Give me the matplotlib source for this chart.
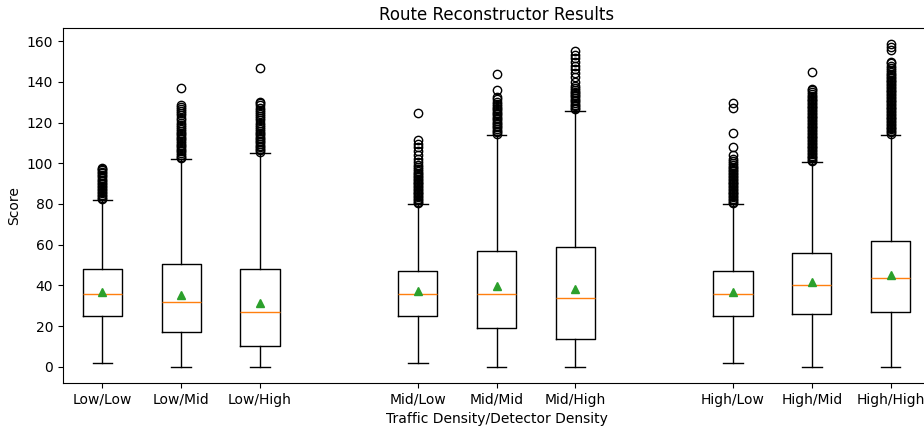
"""Route reconstructor score boxplots"""

import matplotlib
matplotlib.use("Agg")
from matplotlib import pyplot as plt

labels = ["Low/Low", "Low/Mid", "Low/High",
          "Mid/Low", "Mid/Mid", "Mid/High",
          "High/Low", "High/Mid", "High/High"]
positions = [1, 2, 3, 5, 6, 7, 9, 10, 11]

q1 = [25.0, 16.9, 10.1, 25.0, 18.9, 13.5, 25.0, 25.9, 26.7]
med = [35.6, 31.9, 26.8, 35.6, 35.6, 34.0, 35.6, 40.0, 43.7]
q3 = [48.1, 50.7, 48.1, 47.2, 57.1, 58.7, 47.2, 55.9, 61.6]
mean = [36.6, 35.1, 31.4, 37.1, 39.5, 38.4, 36.6, 41.9, 45.2]
whislo = [2.1, 0.0, 0.0, 2.1, 0.0, 0.0, 2.1, 0.0, 0.0]
whishi = [81.8, 102.1, 104.9, 80.0, 113.8, 125.9, 80.0, 100.5, 113.8]

fliers = [
    [82.5, 83.0, 83.8, 84.5, 85.2, 86.0, 86.7, 87.5, 88.3, 89.0, 89.6, 90.4,
     91.2, 92.0, 92.7, 93.5, 94.2, 95.0, 95.8, 96.5, 97.2, 97.8],
    [102.5, 103.3, 104.0, 105.0, 105.8, 106.5, 107.4, 108.3, 109.0, 110.0,
     110.8, 111.7, 112.5, 113.4, 114.2, 115.0, 116.0, 117.0, 118.0, 119.0,
     120.0, 121.2, 122.4, 123.5, 124.6, 125.8, 126.7, 127.5, 128.4, 136.9],
    [105.5, 106.3, 107.0, 107.8, 108.6, 109.4, 110.2, 111.0, 111.8, 112.6,
     113.4, 114.2, 115.0, 116.0, 117.0, 118.0, 119.0, 120.0, 121.0, 122.0,
     123.0, 124.0, 125.0, 126.0, 127.0, 128.5, 129.5, 130.2, 146.7],
    [80.5, 81.2, 81.9, 82.6, 83.3, 84.0, 84.7, 85.4, 86.1, 86.8, 87.5, 88.2,
     88.9, 89.6, 90.3, 91.0, 91.7, 92.4, 93.1, 93.8, 94.5, 95.2, 96.0, 97.0,
     98.0, 99.0, 100.5, 102.0, 104.0, 106.0, 108.0, 109.5, 111.5, 124.6],
    [114.5, 115.2, 116.0, 116.8, 117.6, 118.4, 119.2, 120.0, 120.8, 121.6,
     122.4, 123.2, 124.0, 124.8, 125.6, 126.4, 127.2, 128.0, 129.0, 130.0,
     131.5, 132.5, 135.8, 143.7],
    [126.5, 127.2, 128.0, 128.8, 129.6, 130.4, 131.2, 132.0, 132.8, 133.6,
     134.4, 135.2, 136.0, 137.0, 138.0, 140.0, 142.4, 144.5, 146.5, 148.0,
     149.8, 151.5, 153.0, 155.0],
    [80.5, 81.2, 81.9, 82.6, 83.3, 84.0, 84.7, 85.4, 86.1, 86.8, 87.5, 88.2,
     88.9, 89.6, 90.3, 91.0, 91.7, 92.4, 93.1, 93.8, 94.5, 95.2, 96.0, 96.8,
     97.6, 98.4, 99.2, 100.0, 101.0, 102.0, 104.2, 107.8, 114.8, 127.3, 129.8],
    [101.0, 101.7, 102.4, 103.1, 103.8, 104.5, 105.2, 105.9, 106.6, 107.3,
     108.0, 108.7, 109.4, 110.1, 110.8, 111.5, 112.2, 112.9, 113.6, 114.3,
     115.0, 115.7, 116.4, 117.1, 117.8, 118.5, 119.2, 119.9, 120.6, 121.3,
     122.0, 122.7, 123.4, 124.1, 124.8, 125.5, 126.2, 126.9, 127.6, 128.3,
     129.0, 129.7, 130.4, 131.1, 131.8, 132.5, 133.2, 134.0, 135.0, 136.0,
     136.7, 144.7],
    [114.5, 115.2, 115.9, 116.6, 117.3, 118.0, 118.7, 119.4, 120.1, 120.8,
     121.5, 122.2, 122.9, 123.6, 124.3, 125.0, 125.7, 126.4, 127.1, 127.8,
     128.5, 129.2, 129.9, 130.6, 131.3, 132.0, 132.7, 133.4, 134.1, 134.8,
     135.5, 136.2, 136.9, 137.6, 138.3, 139.0, 139.7, 140.4, 141.1, 141.8,
     142.5, 143.2, 144.0, 145.0, 146.0, 147.0, 148.0, 149.0, 149.8, 155.5,
     157.0, 158.5],
]

stats = []
for i in range(len(labels)):
    stats.append({
        "label": labels[i],
        "q1": q1[i], "med": med[i], "q3": q3[i], "mean": mean[i],
        "whislo": whislo[i], "whishi": whishi[i], "fliers": fliers[i],
    })

fig = plt.figure(figsize=(9.24, 4.29), dpi=100)
# axes runs slightly past the right edge like the original
ax = fig.add_axes([63 / 924, 1 - 383 / 429, 867 / 924, 355 / 429])
ax.bxp(stats, positions=positions, showmeans=True)
ax.set_xlim(0.5, 11.5)
ax.set_title("Route Reconstructor Results")
ax.set_xlabel("Traffic Density/Detector Density")
ax.set_ylabel("Score")

fig.savefig("out.png", dpi=100)
